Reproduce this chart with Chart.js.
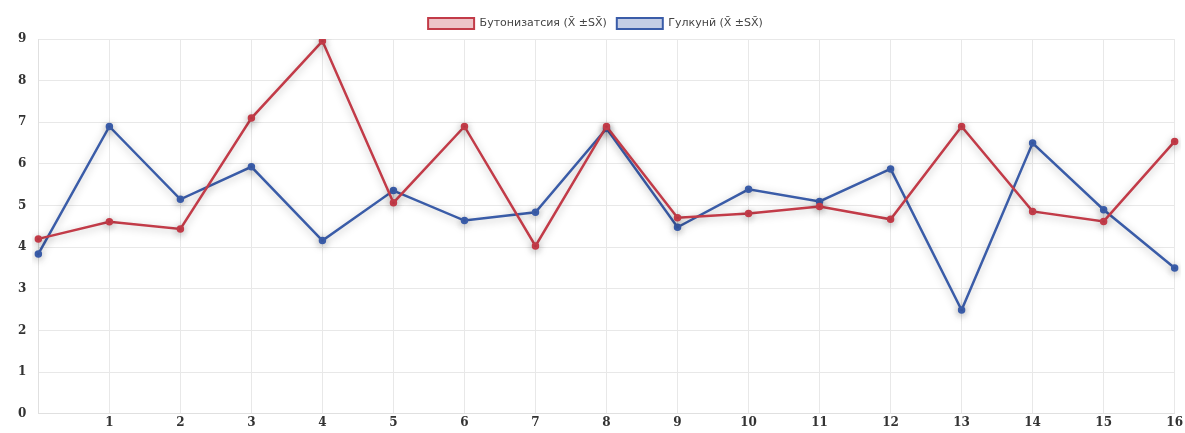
<!DOCTYPE html>
<html>
<head>
<meta charset="utf-8">
<script src="https://cdn.jsdelivr.net/npm/chart.js@4/dist/chart.umd.min.js"></script>
<style>
    html, body { margin: 0; padding: 0; background: #fff; }
    #wrap { width: 1185px; height: 433px; }
</style>
</head>
<body>
<div id="wrap"><canvas id="graf"></canvas></div>
<script>
// --- DATOS ---
var etiquetas = ['', '1', '2', '3', '4', '5', '6', '7', '8', '9', '10', '11', '12', '13', '14', '15', '16'];
var butonizatsiya = [4.2, 4.61, 4.44, 7.1, 8.95, 5.07, 6.9, 4.03, 6.9, 4.71, 4.81, 4.98, 4.67, 6.9, 4.86, 4.62, 6.54];
var gulkuni = [3.84, 6.9, 5.15, 5.93, 4.16, 5.36, 4.64, 4.84, 6.85, 4.48, 5.39, 5.1, 5.88, 2.49, 6.5, 4.9, 3.5];
var nombres = ['Бутонизатсия (X̄ ±SX̄)', 'Гулкунӣ (X̄ ±SX̄)'];

// Sombra suave debajo de las líneas
var sombra = {
    id: 'sombra',
    beforeDatasetsDraw: function (chart) {
        var ctx = chart.ctx;
        ctx.save();
        ctx.shadowColor = 'rgba(0,0,0,0.28)';
        ctx.shadowBlur = 9;
        ctx.shadowOffsetY = 2;
    },
    afterDatasetsDraw: function (chart) {
        chart.ctx.restore();
    }
};

new Chart(document.getElementById('graf').getContext('2d'), {
    type: 'line',
    data: {
        labels: etiquetas,
        datasets: [{
            label: nombres[0],
            data: butonizatsiya,
            borderColor: '#c23b48',
            backgroundColor: '#c23b48',
            borderWidth: 2.5,
            pointRadius: 2.5,
            tension: 0
        }, {
            label: nombres[1],
            data: gulkuni,
            borderColor: '#3a5ca8',
            backgroundColor: '#3a5ca8',
            borderWidth: 2.5,
            pointRadius: 2.5,
            tension: 0
        }]
    },
    options: {
        responsive: true,
        maintainAspectRatio: false,
        animation: false,
        layout: { padding: { left: 6, right: 0, top: 8, bottom: 0 } },
        plugins: {
            legend: {
                labels: {
                    boxWidth: 46,
                    boxHeight: 11,
                    padding: 10,
                    color: '#444',
                    font: { family: 'DejaVu Sans', size: 11 },
                    generateLabels: function (chart) {
                        var fills = ['rgba(194,59,72,0.3)', 'rgba(58,92,168,0.3)'];
                        return chart.data.datasets.map(function (ds, i) {
                            return {
                                text: ds.label,
                                fillStyle: fills[i],
                                strokeStyle: ds.borderColor,
                                lineWidth: 2,
                                datasetIndex: i,
                                fontColor: '#444'
                            };
                        });
                    }
                }
            },
            tooltip: { enabled: false }
        },
        scales: {
            x: {
                grid: { color: '#e8e8e8', drawTicks: false },
                border: { color: '#e0e0e0' },
                ticks: {
                    color: '#333',
                    padding: 2,
                    maxRotation: 0,
                    font: { family: 'DejaVu Serif', size: 12, weight: 'bold' }
                }
            },
            y: {
                min: 0,
                max: 9,
                grid: { color: '#e8e8e8', drawTicks: false },
                border: { color: '#e0e0e0' },
                ticks: {
                    stepSize: 1,
                    color: '#333',
                    padding: 12,
                    font: { family: 'DejaVu Serif', size: 12, weight: 'bold' }
                }
            }
        }
    },
    plugins: [sombra]
});
</script>
</body>
</html>
